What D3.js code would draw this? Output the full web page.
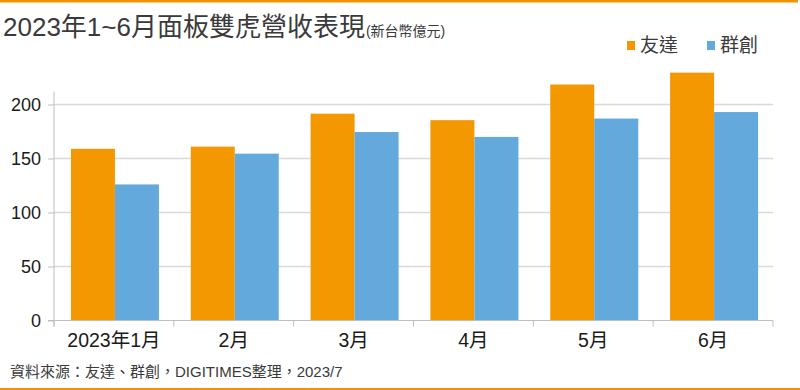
<!DOCTYPE html>
<html>
<head>
<meta charset="utf-8">
<script src="https://cdn.jsdelivr.net/npm/d3@7"></script>
<style>
  body { margin: 0; background: #fff; }
  svg text { font-family: "Liberation Sans", Arial, "Noto Sans CJK TC", sans-serif; }
</style>
</head>
<body>
<div id="chart"></div>
<script>
const months = ['2023年1月', '2月', '3月', '4月', '5月', '6月']
const auo = [159, 161, 191.5, 185.5, 218.5, 229.5]
const innolux = [126, 154.5, 174.5, 170, 187, 193]
const seriesNames = ['友達', '群創']
const yTicks = [0, 50, 100, 150, 200]

const fullWidth = 800,
  fullHeight = 390,
  margin = { top: 50, right: 27, bottom: 69.5, left: 54 },
  width = fullWidth - margin.left - margin.right,
  height = fullHeight - margin.top - margin.bottom

const colors = d3.scaleOrdinal()
  .domain(seriesNames)
  .range(['#f39800', '#63a9dc'])

const svg = d3.select('#chart')
  .append('svg')
  .attr('width', fullWidth)
  .attr('height', fullHeight)

// orange rules top and bottom
svg.append('rect').attr('x', 0).attr('y', 0).attr('width', 798).attr('height', 2.5).attr('fill', '#f39200')
svg.append('rect').attr('x', 0).attr('y', 388).attr('width', 800).attr('height', 2).attr('fill', '#f39200')

// title
const title = svg.append('text')
  .attr('x', 3)
  .attr('y', 36)
  .attr('fill', '#3a3a3a')
title.append('tspan').style('font-size', '26px').text('2023年1~6月面板雙虎營收表現')
title.append('tspan').style('font-size', '14px').attr('dx', 1).text('(新台幣億元)')

const g = svg.append('g')
  .attr('transform', `translate(${margin.left}, ${margin.top})`)

const x0 = d3.scaleBand()
  .domain(months)
  .range([0, width])

const x1 = d3.scaleBand()
  .domain(seriesNames)
  .range([0, 88])

const y = d3.scaleLinear()
  .domain([0, 250])
  .range([height, height - 270])

// gridlines
g.selectAll('.grid')
  .data(yTicks.slice(1))
  .enter()
  .append('line')
  .attr('x1', 0)
  .attr('x2', width)
  .attr('y1', d => y(d))
  .attr('y2', d => y(d))
  .attr('stroke', '#d9d9d9')
  .attr('stroke-width', 1.5)

// y axis
const yAxis = g.append('g')
  .call(d3.axisLeft(y).tickValues(yTicks).tickSize(6).tickPadding(7))
yAxis.select('.domain').attr('stroke', '#bfbfbf').attr('d', `M0,${y(212)}V${height + 6}`)
yAxis.selectAll('.tick line').attr('stroke', '#bfbfbf')
yAxis.selectAll('.tick text')
  .attr('fill', '#1a1a1a')
  .style('font-size', '18px')
  .attr('dy', '0.35em')

// bars
const data = months.map((m, i) => ({ month: m, values: [auo[i], innolux[i]] }))

const group = g.selectAll('.month')
  .data(data)
  .enter()
  .append('g')
  .attr('class', 'month')
  .attr('transform', d => `translate(${x0(d.month) + (x0.bandwidth() - 88) / 2 + 1}, 0)`)

group.selectAll('rect')
  .data(d => d.values.map((v, i) => ({ key: seriesNames[i], value: v })))
  .enter()
  .append('rect')
  .attr('x', d => x1(d.key))
  .attr('width', x1.bandwidth())
  .attr('y', d => y(d.value))
  .attr('height', d => y(0) - y(d.value))
  .attr('fill', d => colors(d.key))

// x axis
const xAxis = g.append('g')
  .attr('transform', `translate(0, ${height})`)
xAxis.append('line')
  .attr('x1', -6).attr('x2', width)
  .attr('stroke', '#bfbfbf')
xAxis.selectAll('.xtick')
  .data(months.map(m => x0(m)).concat([width]))
  .enter()
  .append('line')
  .attr('x1', d => d).attr('x2', d => d)
  .attr('y1', 0).attr('y2', 6)
  .attr('stroke', '#bfbfbf')
xAxis.selectAll('.xlabel')
  .data(months)
  .enter()
  .append('text')
  .attr('x', d => x0(d) + x0.bandwidth() / 2)
  .attr('y', 26.5)
  .attr('text-anchor', 'middle')
  .attr('fill', '#1a1a1a')
  .style('font-size', '19.5px')
  .text(d => d)

// legend
const legend = svg.selectAll('.legend')
  .data(seriesNames)
  .enter()
  .append('g')
  .attr('transform', (d, i) => `translate(${627 + i * 80}, 41)`)
legend.append('rect')
  .attr('width', 8).attr('height', 9)
  .attr('fill', d => colors(d))
legend.append('text')
  .attr('x', 13).attr('y', 11)
  .attr('fill', '#3a3a3a')
  .style('font-size', '19px')
  .text(d => d)

// source
svg.append('text')
  .attr('x', 10)
  .attr('y', 377)
  .attr('fill', '#3a3a3a')
  .style('font-size', '15px')
  .text('資料來源：友達、群創，DIGITIMES整理，2023/7')
</script>
</body>
</html>
